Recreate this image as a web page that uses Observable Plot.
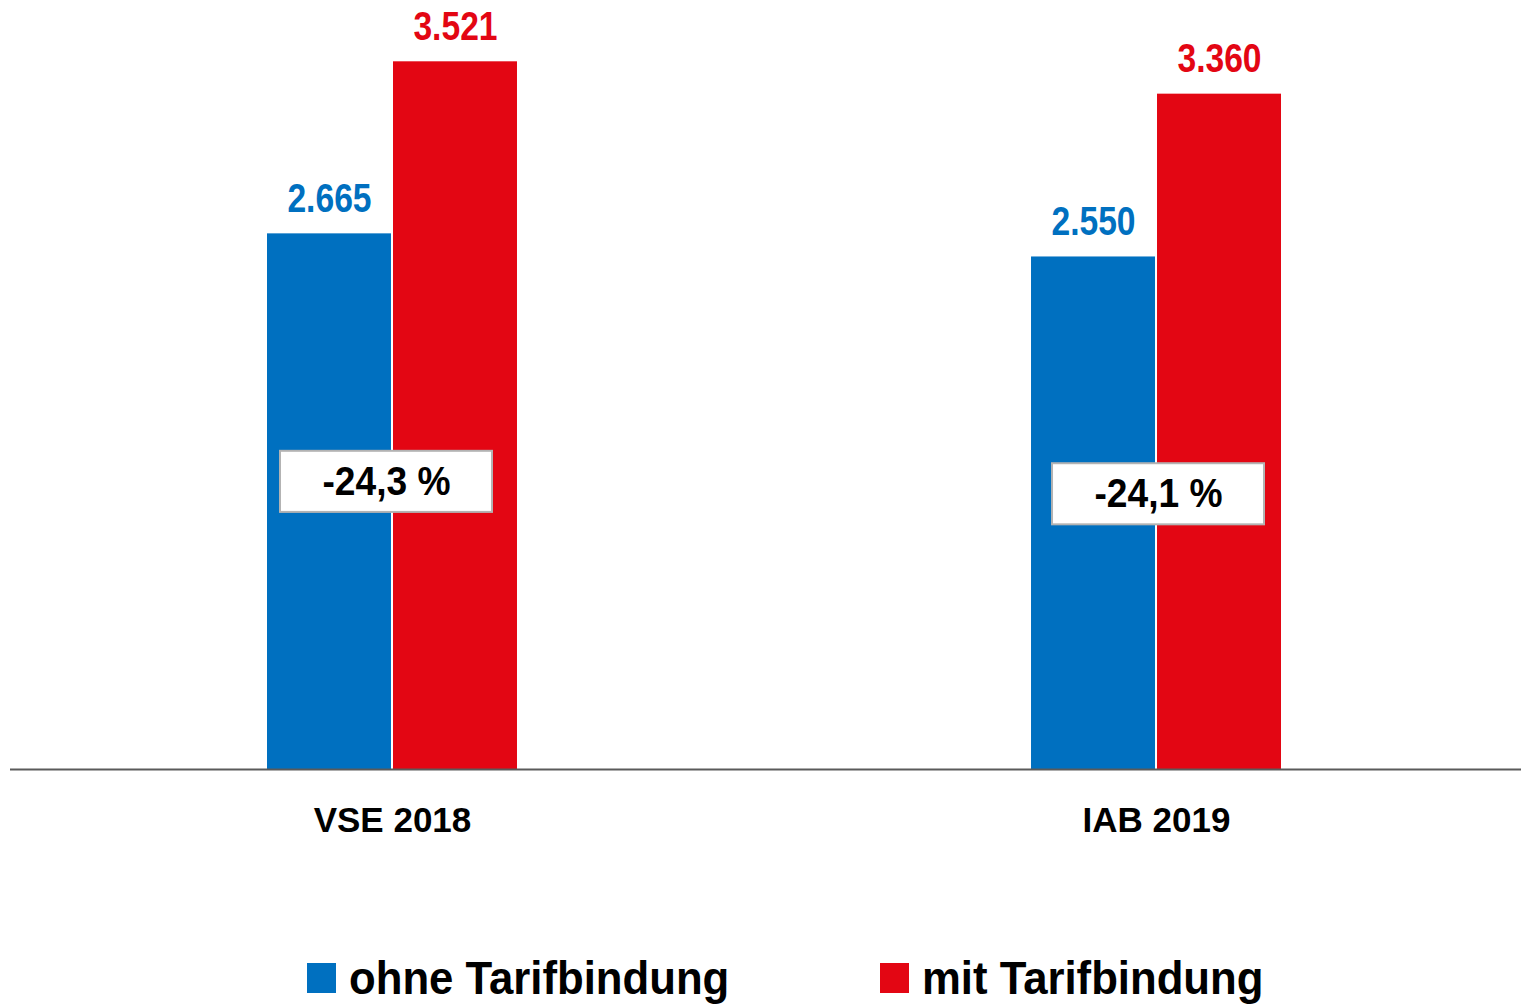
<!DOCTYPE html>
<html><head><meta charset="utf-8">
<script src="https://cdn.jsdelivr.net/npm/d3@7"></script>
<script src="https://cdn.jsdelivr.net/npm/@observablehq/plot@0.6"></script>
<style>
body{margin:0;background:#fff;font-family:"Liberation Sans",Arial,sans-serif;}
#chart svg{display:block;}
#legend{position:relative;height:68px;font-weight:bold;font-size:46px;color:#000;}
.item{position:absolute;top:8px;height:60px;display:flex;align-items:center;white-space:nowrap;}
.sw{display:inline-block;width:29px;height:30px;margin-right:13px;}
.lt{display:inline-block;transform:scaleX(0.95);transform-origin:left center;}
</style></head><body>
<div id="chart"></div>
<div id="legend"></div>
<script>
const categories = ["VSE 2018", "IAB 2019"];
const series = ["ohne Tarifbindung", "mit Tarifbindung"];
const ohneValues = [2665, 2550];
const mitValues = [3521, 3360];
const colors = ["#0070C0", "#E30613"];

const ohne = categories.map((c, i) => ({category: c, series: series[0], value: ohneValues[i]}));
const mit = categories.map((c, i) => ({category: c, series: series[1], value: mitValues[i]}));
const gaps = categories.map((c, i) => ({category: c, base: ohneValues[i], pct: (ohneValues[i] / mitValues[i] - 1) * 100}));

const fmtNum = d => d3.format(",")(d.value).replace(/,/g, ".");
const fmtPct = d => d.pct.toFixed(1).replace(".", ",") + " %";

// per-category style offsets for the difference boxes (pixels)
const boxStyle = [
  {insetLeft: 13, insetRight: 25, dx: -6},
  {insetLeft: 21, insetRight: 17, dx: 2}
];
const boxMarks = gaps.flatMap((g, i) => [
  Plot.barY([g], {x: "category", y1: d => d.base * 0.537 - 152, y2: d => d.base * 0.537 + 152, fill: "#fff", stroke: "#b3b3b3", strokeWidth: 2, insetLeft: boxStyle[i].insetLeft, insetRight: boxStyle[i].insetRight}),
  Plot.text([g], {x: "category", y: d => d.base * 0.537, text: fmtPct, dx: boxStyle[i].dx, fill: "#000", fontSize: 40, fontWeight: "bold", className: "pctlabel"})
]);

const chart = Plot.plot({
  width: 1521,
  height: 940,
  marginTop: 0,
  marginLeft: 10,
  marginRight: 0,
  marginBottom: 171,
  style: {fontFamily: "'Liberation Sans', Arial, sans-serif", color: "#000", background: "#fff"},
  x: {domain: categories, range: [267, 1281], paddingInner: 0.6728, paddingOuter: 0, round: false, label: null},
  y: {domain: [0, 3826], axis: null},
  marks: [
    Plot.barY(ohne, {x: "category", y: "value", fill: colors[0], insetRight: 126}),
    Plot.barY(mit, {x: "category", y: "value", fill: colors[1], insetLeft: 126}),
    Plot.text(ohne, {x: "category", y: "value", text: fmtNum, dx: -63, dy: -35, fill: colors[0], fontSize: 41, fontWeight: "bold", className: "vlabel"}),
    Plot.text(mit, {x: "category", y: "value", text: fmtNum, dx: 63, dy: -35, fill: colors[1], fontSize: 41, fontWeight: "bold", className: "vlabel"}),
    Plot.ruleY([0], {stroke: "#5a5a5a", strokeWidth: 2}),
    ...boxMarks,
    Plot.axisX({tickSize: 0, tickPadding: 38, fontSize: 35, fontWeight: "bold", fill: "#000", label: null})
  ]
});
// condense the label glyphs horizontally (narrow typeface look)
chart.querySelectorAll("g.vlabel text").forEach(t => t.setAttribute("transform", (t.getAttribute("transform") || "") + " scale(0.82,1)"));
chart.querySelectorAll("g.pctlabel text").forEach(t => t.setAttribute("transform", (t.getAttribute("transform") || "") + " scale(0.93,1)"));
document.getElementById("chart").append(chart);

const legend = document.getElementById("legend");
const legendLeft = [307, 880];
series.forEach((s, i) => {
  const item = document.createElement("div");
  item.className = "item";
  item.style.left = legendLeft[i] + "px";
  const sw = document.createElement("span");
  sw.className = "sw";
  sw.style.background = colors[i];
  const t = document.createElement("span");
  t.className = "lt";
  t.textContent = s;
  item.append(sw, t);
  legend.append(item);
});
</script>
</body></html>
